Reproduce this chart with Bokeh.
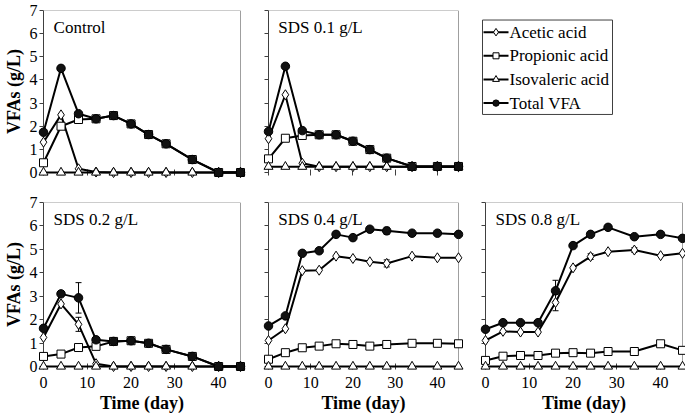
from bokeh.plotting import figure
from bokeh.layouts import row, column
from bokeh.models import (ColumnDataSource, Whisker, TeeHead, Span, Label,
                          Range1d, FixedTicker)
from bokeh.core.properties import value
from bokeh.embed import file_html
from bokeh.resources import INLINE

# ---------------- data ----------------
days = [0, 4, 8, 12, 16, 20, 24, 28, 34, 40, 45]
x_ticks = [0, 10, 20, 30, 40]
y_ticks = [0, 1, 2, 3, 4, 5, 6, 7]
series_names = ["Acetic acid", "Propionic acid", "Isovaleric acid", "Total VFA"]
panel_titles = ["Control", "SDS 0.1 g/L", "SDS 0.2 g/L", "SDS 0.4 g/L", "SDS 0.8 g/L"]

control_acetic = [1.31, 2.49, 0.16, 0.02, 0, 0, 0, 0, 0, 0, 0]
control_propionic = [0.42, 2.0, 2.29, 2.32, 2.46, 2.1, 1.64, 1.24, 0.56, 0, 0]
control_isovaleric = [0, 0, 0, 0, 0, 0, 0, 0, 0, 0, 0]
control_total = [1.74, 4.5, 2.54, 2.32, 2.46, 2.1, 1.64, 1.24, 0.56, 0, 0]

sds01_acetic = [1.46, 3.36, 0.40, 0.25, 0.25, 0.25, 0.25, 0.25, 0.25, 0.25, 0.25]
sds01_propionic = [0.59, 1.48, 1.60, 1.63, 1.63, 1.35, 0.99, 0.62, 0.26, 0.26, 0.26]
sds01_isovaleric = [0.25, 0.25, 0.25, 0.25, 0.25, 0.25, 0.25, 0.25, 0.25, 0.25, 0.25]
sds01_total = [1.77, 4.59, 1.81, 1.63, 1.63, 1.35, 0.99, 0.62, 0.26, 0.26, 0.26]

sds02_acetic = [1.24, 2.67, 1.8, 0.12, 0, 0, 0, 0, 0, 0, 0]
sds02_propionic = [0.43, 0.53, 0.81, 0.86, 1.07, 1.1, 0.99, 0.73, 0.43, 0, 0]
sds02_isovaleric = [0, 0, 0, 0, 0, 0, 0, 0, 0, 0, 0]
sds02_total = [1.63, 3.1, 2.93, 1.14, 1.07, 1.1, 0.99, 0.73, 0.43, 0, 0]
sds02_acetic_err = [0, 0, 0.3, 0, 0, 0, 0, 0, 0, 0, 0]
sds02_total_err = [0, 0, 0.65, 0, 0, 0, 0, 0, 0, 0, 0]

sds04_acetic = [1.11, 1.61, 4.09, 4.11, 4.71, 4.61, 4.47, 4.4, 4.71, 4.64, 4.64]
sds04_propionic = [0.31, 0.59, 0.8, 0.87, 0.97, 0.94, 0.87, 0.94, 0.99, 0.99, 0.97]
sds04_isovaleric = [0, 0, 0, 0, 0, 0, 0, 0, 0, 0, 0]
sds04_total = [1.73, 2.16, 4.83, 4.94, 5.64, 5.5, 5.86, 5.79, 5.69, 5.69, 5.64]
sds04_acetic_err = [0, 0, 0, 0, 0, 0, 0, 0.15, 0, 0, 0]
sds04_total_err = [0, 0, 0, 0, 0, 0, 0, 0.15, 0, 0, 0]

sds08_acetic = [1.11, 1.5, 1.47, 1.47, 2.73, 4.21, 4.69, 4.9, 4.97, 4.73, 4.83]
sds08_propionic = [0.26, 0.44, 0.47, 0.47, 0.57, 0.59, 0.57, 0.64, 0.64, 0.97, 0.69]
sds08_isovaleric = [0, 0, 0, 0, 0, 0, 0, 0, 0, 0, 0]
sds08_total = [1.59, 1.87, 1.87, 1.87, 3.23, 5.16, 5.64, 5.94, 5.54, 5.64, 5.47]
sds08_acetic_err = [0, 0, 0, 0, 0.35, 0, 0.12, 0, 0.1, 0, 0]
sds08_total_err = [0, 0, 0, 0, 0.45, 0, 0, 0, 0, 0, 0]

FONT = "Liberation Serif"
markers = ["diamond", "square", "triangle", "circle"]
marker_sizes = [10, 8, 9, 8.5]
marker_fills = ["white", "white", "white", "#111111"]


def make_panel(title, series, errs, width, height, bl, br, bt, bb, show_y, show_x, x_axis_line=True):
    p = figure(width=width, height=height, x_range=Range1d(0, 45), y_range=Range1d(0, 7),
               output_backend="svg", toolbar_location=None,
               min_border_left=bl, min_border_right=br, min_border_top=bt, min_border_bottom=bb)
    p.grid.visible = False
    p.outline_line_color = None
    p.background_fill_color = "white"
    p.border_fill_color = "white"

    p.add_layout(Span(location=7, dimension="width", line_color="#9a9a9a", line_width=1))
    p.add_layout(Span(location=45, dimension="height", line_color="#404040", line_width=1))

    p.xaxis.ticker = FixedTicker(ticks=x_ticks)
    p.yaxis.ticker = FixedTicker(ticks=y_ticks)
    for ax in p.axis:
        ax.axis_line_color = "#404040"
        ax.major_tick_line_color = "#404040"
        ax.minor_tick_line_color = None
        ax.major_label_text_font = FONT
        ax.major_label_text_font_size = "16px"
        ax.major_label_text_color = "black"
        ax.axis_label_text_font = FONT
        ax.axis_label_text_font_size = "18px"
        ax.axis_label_text_font_style = "bold"
        ax.axis_label_text_color = "black"
    p.xaxis.major_tick_in = 3
    p.xaxis.major_tick_out = 3
    p.yaxis.major_tick_in = 0
    p.yaxis.major_tick_out = 4
    p.yaxis.major_label_standoff = 2
    p.xaxis.major_label_standoff = 7
    p.xaxis.axis_label_standoff = 2
    p.yaxis.axis_label_standoff = 3
    if not x_axis_line:
        p.xaxis.axis_line_color = None

    if show_y:
        p.yaxis.axis_label = "VFAs (g/L)"
    else:
        p.yaxis.major_label_overrides = {t: "" for t in y_ticks}
    if show_x:
        p.xaxis.axis_label = "Time (day)"
    else:
        p.xaxis.major_label_overrides = {t: "" for t in x_ticks}

    # error bars
    for vals, err in errs:
        xs = [d for d, e in zip(days, err) if e > 0]
        up = [v + e for v, e in zip(vals, err) if e > 0]
        lo = [v - e for v, e in zip(vals, err) if e > 0]
        if xs:
            src = ColumnDataSource(dict(x=xs, upper=up, lower=lo))
            w = Whisker(source=src, base="x", upper="upper", lower="lower",
                        line_color="black", line_width=1,
                        upper_head=TeeHead(size=6, line_color="black", line_width=1),
                        lower_head=TeeHead(size=6, line_color="black", line_width=1))
            p.add_layout(w)

    for vals, mk, ms, fc in zip(series, markers, marker_sizes, marker_fills):
        src = ColumnDataSource(dict(x=days, y=vals))
        r1 = p.line("x", "y", source=src, line_color="black", line_width=2)
        r2 = p.scatter("x", "y", source=src, marker=mk, size=ms, fill_color=fc,
                       line_color="black", line_width=1)
        r1.level = "overlay"
        r2.level = "overlay"

    p.add_layout(Label(x=2.3, y=6.28, text=title, text_font=FONT, text_font_size="17px",
                       text_baseline="middle", text_align="left", text_color="black"))
    return p


TOP_H, BOT_H = 187, 232
p1 = make_panel(panel_titles[0],
                [control_acetic, control_propionic, control_isovaleric, control_total], [],
                254, TOP_H, 43, 14, 10, 15, True, False)
p2 = make_panel(panel_titles[1],
                [sds01_acetic, sds01_propionic, sds01_isovaleric, sds01_total], [],
                218, TOP_H, 14, 14, 10, 15, False, False, x_axis_line=False)

# ---------------- legend cell (pixel coordinates, y downwards) ----------------
LW, LH = 213, TOP_H
leg = figure(width=LW, height=LH, x_range=Range1d(0, LW), y_range=Range1d(LH, 0),
             output_backend="svg", toolbar_location=None, x_axis_type=None, y_axis_type=None,
             min_border_left=0, min_border_right=0, min_border_top=0, min_border_bottom=0)
leg.grid.visible = False
leg.outline_line_color = None
leg.background_fill_color = "white"
leg.border_fill_color = "white"

box_l, box_r, box_t, box_b = 10, 140, 11, 120
leg.quad(left=[box_l], right=[box_r], top=[box_t], bottom=[box_b],
         fill_color="white", line_color="#404040", line_width=1)
item_y0, item_pitch = 25, 27.3
g_x0, g_x1, t_x = 11, 36, 37
iy = [item_y0 + i * item_pitch for i in range(len(series_names))]
leg.segment(x0=[g_x0] * len(iy), x1=[g_x1] * len(iy), y0=iy, y1=iy,
            line_color="black", line_width=2)
for i, (mk, ms, fc) in enumerate(zip(markers, marker_sizes, marker_fills)):
    leg.scatter(x=[(g_x0 + g_x1) / 2], y=[iy[i]], marker=mk, size=ms * 0.75,
                fill_color=fc, line_color="black", line_width=1)
leg.text(x=[t_x] * len(iy), y=iy, text=series_names, text_font=value(FONT),
         text_font_size="17px", text_baseline="middle", text_align="left", text_color="black")

p4 = make_panel(panel_titles[2],
                [sds02_acetic, sds02_propionic, sds02_isovaleric, sds02_total],
                [(sds02_acetic, sds02_acetic_err), (sds02_total, sds02_total_err)],
                254, BOT_H, 43, 14, 15, 53, True, True)
p5 = make_panel(panel_titles[3],
                [sds04_acetic, sds04_propionic, sds04_isovaleric, sds04_total],
                [(sds04_acetic, sds04_acetic_err), (sds04_total, sds04_total_err)],
                218, BOT_H, 14, 14, 15, 53, False, True)
p6 = make_panel(panel_titles[4],
                [sds08_acetic, sds08_propionic, sds08_isovaleric, sds08_total],
                [(sds08_acetic, sds08_acetic_err), (sds08_total, sds08_total_err)],
                213, BOT_H, 13, 3, 15, 53, False, True)

layout = column(row(p1, p2, leg), row(p4, p5, p6))

with open("out.html", "w") as f:
    f.write(file_html(layout, INLINE))
